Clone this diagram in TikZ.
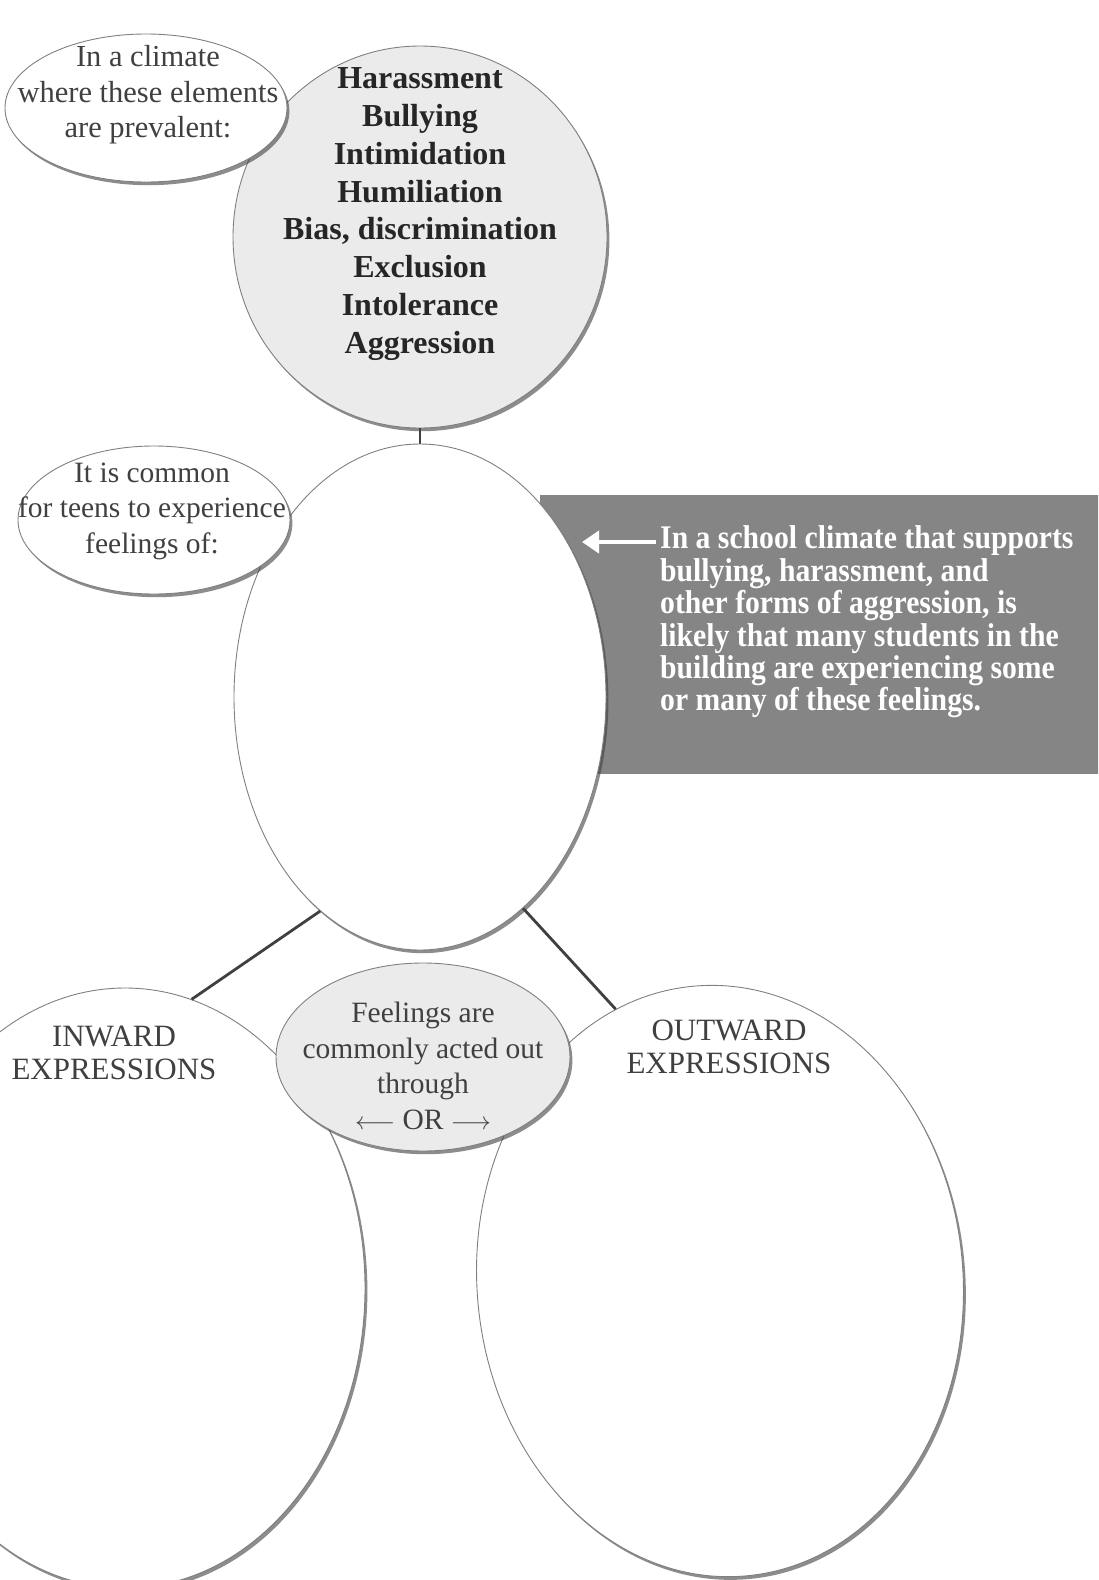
\documentclass[tikz,border=0pt]{standalone}
\usepackage{fontspec}
\setmainfont{Liberation Serif}
\newfontfamily\condfont[FakeStretch=0.9]{Liberation Serif}
\usetikzlibrary{shapes.geometric,shadows,arrows.meta}
\begin{document}
\begin{tikzpicture}[x=1pt,y=-1pt,
  bubble/.style={ellipse, draw=black!50, line width=0.9pt, inner sep=0pt,
     drop shadow={shadow xshift=2.4pt, shadow yshift=-3.2pt, fill=black!75, opacity=0.6}},
  whitebubble/.style={bubble, fill=white},
  greybubble/.style={bubble, fill=black!8},
  note/.style={font=\fontsize{30.5}{35.5}\selectfont, text=black!75, align=center, inner sep=0pt},
  smallnote/.style={note, font=\fontsize{29.5}{35.5}\selectfont},
  listtxt/.style={font=\bfseries\fontsize{32}{37.8}\selectfont, text=black!85, align=center, inner sep=0pt},
  head/.style={font=\fontsize{31}{33}\selectfont, text=black!75, align=center, inner sep=0pt},
  boxtxt/.style={font=\condfont\bfseries\fontsize{33}{32.4}\selectfont, text=white, align=left, inner sep=0pt},
  link/.style={draw=black!75, line width=2.8pt},
]
\path[use as bounding box] (0,0) rectangle (1098,1580);
\clip (0,0) rectangle (1098,1580);
\fill[white] (0,0) rectangle (1098,1580);

% top: list circle and its caption
\node[greybubble, minimum width=374pt, minimum height=382pt] (B) at (420,237) {};
\node[whitebubble, minimum width=282pt, minimum height=148pt] (A) at (146,108) {};
\node[note] (At) at (148,95) {In a climate\\where these elements\\are prevalent:};
\node[listtxt] (Bt) at (420,214) {Harassment\\Bullying\\Intimidation\\Humiliation\\Bias, discrimination\\Exclusion\\Intolerance\\Aggression};

% grey note box
\node[rectangle, fill=black!48, anchor=north west, minimum width=570pt, minimum height=279pt, inner sep=0pt] (R) at (540,495) {};

% feelings circle
\draw[link, line width=2.2pt] (B.south) -- (B.south |- 0,446) coordinate (Dtop);
\node[whitebubble, minimum width=372pt, minimum height=506pt] (D) at (420,697) {};
\node[whitebubble, minimum width=272pt, minimum height=148pt] (C) at (154,520) {};
\node[smallnote] (Ct) at (152,511) {It is common\\for teens to experience\\feelings of:};

% note text and arrow
\node[boxtxt, anchor=west] (Rt) at (660,622) {In a school climate that supports\\bullying, harassment, and\\other forms of aggression, is\\likely that many students in the\\building are experiencing some\\or many of these feelings.};
\coordinate (arrS) at (656,542);
\coordinate (arrE) at (582,542);
\draw[white, line width=4pt, -{Triangle[length=17pt,width=22pt]}] (arrS) -- (arrE);

% expressions
\node[whitebubble, minimum width=480pt, minimum height=600pt] (E) at (125,1288) {};
\node[whitebubble, minimum width=486pt, minimum height=592pt, rotate=5] (G) at (720,1281) {};
\draw[link] (D.245) -- (E.77);
\draw[link] (D.296) -- (G.106);
\node[head] (Et) at (114,1053) {INWARD\\EXPRESSIONS};
\node[head] (Gt) at (729,1047) {OUTWARD\\EXPRESSIONS};

\node[greybubble, minimum width=294pt, minimum height=188pt] (F) at (423,1057) {};
\node[smallnote] (Ft) at (423,1066) {Feelings are\\commonly acted out\\through\\\(\longleftarrow\) OR \(\longrightarrow\)};
\end{tikzpicture}
\end{document}
